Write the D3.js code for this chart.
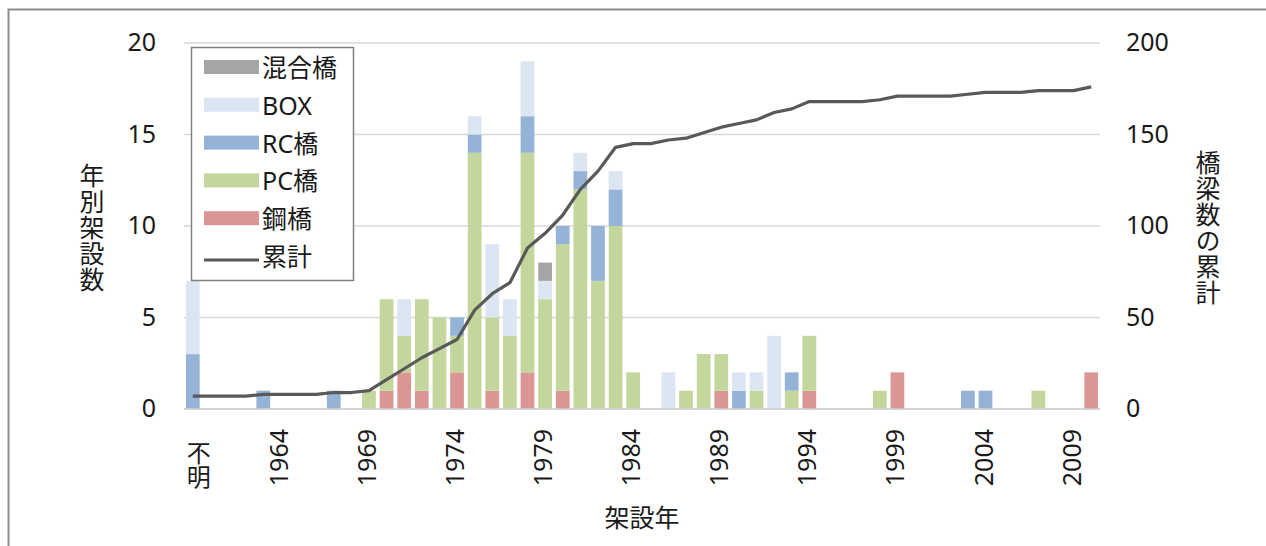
<!DOCTYPE html>
<html><head><meta charset="utf-8">
<script src="https://cdn.jsdelivr.net/npm/d3@7"></script>
<style>
html,body{margin:0;padding:0;background:#fff;}
svg{display:block;}
text{font-family:"Noto Sans","Noto Sans CJK JP",sans-serif;fill:#1a1a1a;}
text.vert{writing-mode:vertical-rl;text-orientation:upright;font-family:"Noto Sans CJK JP",sans-serif;}
</style></head>
<body>
<svg id="chart" width="1266" height="546"></svg>
<script>
const categories = ["不明","1960","1961","1962","1963","1964","1965","1966","1967","1968",
  "1969","1970","1971","1972","1973","1974","1975","1976","1977","1978",
  "1979","1980","1981","1982","1983","1984","1985","1986","1987","1988",
  "1989","1990","1991","1992","1993","1994","1995","1996","1997","1998",
  "1999","2000","2001","2002","2003","2004","2005","2006","2007","2008",
  "2009","2010"];
const tickLabels = ["不明","1964","1969","1974","1979","1984","1989","1994","1999","2004","2009"];

const steel = [0,0,0,0,0,0,0,0,0,0, 0,1,2,1,0,2,0,1,0,2, 0,1,0,0,0,0,0,0,0,0, 1,0,0,0,0,1,0,0,0,0, 2,0,0,0,0,0,0,0,0,0, 0,2];
const pc    = [0,0,0,0,0,0,0,0,0,0, 1,5,2,5,5,2,14,4,4,12, 6,8,12,7,10,2,0,0,1,3, 2,0,1,0,1,3,0,0,0,1, 0,0,0,0,0,0,0,0,1,0, 0,0];
const rc    = [3,0,0,0,1,0,0,0,1,0, 0,0,0,0,0,1,1,0,0,2, 0,1,1,3,2,0,0,0,0,0, 0,1,0,0,1,0,0,0,0,0, 0,0,0,0,1,1,0,0,0,0, 0,0];
const box   = [4,0,0,0,0,0,0,0,0,0, 0,0,2,0,0,0,1,4,2,3, 1,0,1,0,1,0,0,2,0,0, 0,1,1,4,0,0,0,0,0,0, 0,0,0,0,0,0,0,0,0,0, 0,0];
const mixed = [0,0,0,0,0,0,0,0,0,0, 0,0,0,0,0,0,0,0,0,0, 1,0,0,0,0,0,0,0,0,0, 0,0,0,0,0,0,0,0,0,0, 0,0,0,0,0,0,0,0,0,0, 0,0];
const cumulative = [7,7,7,7,8,8,8,8,9,9, 10,16,22,28,33,38,54,63,69,88, 96,106,120,130,143,145,145,147,148,151,
  154,156,158,162,164,168,168,168,168,169, 171,171,171,171,172,173,173,173,174,174, 174,176];

const seriesNames = ["鋼橋","PC橋","RC橋","BOX","混合橋"];
const seriesColors = ["#d99694","#c3d69b","#95b3d7","#dce6f2","#a6a6a6"];
const lineName = "累計";
const leftTicks = [0,5,10,15,20];
const rightTicks = [0,50,100,150,200];

const svg = d3.select("#chart");
const W = 1266, H = 546;
const L = 184, R = 1100, T = 43, B = 409;

// outer frame
svg.append("path").attr("d", `M8.5,${H+5} L8.5,9.5 L${W+5},9.5`)
  .attr("fill","none").attr("stroke","#8c8c8c").attr("stroke-width",2);

const x = d3.scaleBand().domain(categories).range([L,R]).paddingInner(0.22).paddingOuter(0.11);
const y = d3.scaleLinear().domain([0,20]).range([B,T]);
const y2 = d3.scaleLinear().domain([0,200]).range([B,T]);

// gridlines
svg.append("g").selectAll("line").data(leftTicks).join("line")
  .attr("x1",L).attr("x2",R).attr("y1",d=>y(d)).attr("y2",d=>y(d))
  .attr("stroke","#d9d9d9").attr("stroke-width",1.5);

// stacked bars
const table = categories.map((c,i)=>({cat:c, s0:steel[i], s1:pc[i], s2:rc[i], s3:box[i], s4:mixed[i]}));
const stack = d3.stack().keys(["s0","s1","s2","s3","s4"])(table);
svg.append("g").selectAll("g").data(stack).join("g")
  .attr("fill",(d,i)=>seriesColors[i])
  .selectAll("rect").data(d=>d.filter(v=>v[1]-v[0]>0)).join("rect")
  .attr("x",d=>x(d.data.cat)).attr("width",x.bandwidth())
  .attr("y",d=>y(d[1])).attr("height",d=>y(d[0])-y(d[1]));

// baseline
svg.append("line").attr("x1",L).attr("x2",R).attr("y1",y(0)).attr("y2",y(0))
  .attr("stroke","#d0d0d0").attr("stroke-width",1.5);

// cumulative line
const line = d3.line().x((d,i)=>x(categories[i])+x.bandwidth()/2).y(d=>y2(d));
svg.append("path").datum(cumulative).attr("d",line)
  .attr("fill","none").attr("stroke","#595959").attr("stroke-width",3.2).attr("stroke-linejoin","round");

// left axis labels
svg.append("g").selectAll("text").data(leftTicks).join("text")
  .attr("x",156).attr("y",d=>y(d)-2).attr("text-anchor","end").attr("dominant-baseline","central")
  .attr("font-size",25).text(d=>d);
// right axis labels
svg.append("g").selectAll("text").data(rightTicks).join("text")
  .attr("x",1126).attr("y",d=>y2(d)-2).attr("text-anchor","start").attr("dominant-baseline","central")
  .attr("font-size",25).text(d=>d);

// x tick labels
const xl = svg.append("g");
tickLabels.forEach(t=>{
  const cx = x(t)+x.bandwidth()/2;
  if (/^\d+$/.test(t)) {
    xl.append("text").attr("transform",`translate(${cx-3},429) rotate(-90)`)
      .attr("text-anchor","end").attr("dominant-baseline","central").attr("font-size",25).text(t);
  } else {
    xl.append("text").attr("class","vert").attr("x",cx+6).attr("y",465)
      .attr("text-anchor","middle").attr("font-size",24).text(t);
  }
});

// axis titles
svg.append("text").attr("x",(L+R)/2).attr("y",517).attr("text-anchor","middle")
  .attr("dominant-baseline","central").attr("font-size",25).text("架設年");
function vtitle(str, cx, cy){
  svg.append("text").attr("class","vert").attr("x",cx).attr("y",cy)
    .attr("text-anchor","middle").attr("font-size",25).attr("letter-spacing",1).text(str);
}
vtitle("年別架設数", 92, 228);
vtitle("橋梁数の累計", 1208, 228);

// legend
const lg = svg.append("g");
lg.append("rect").attr("x",191.5).attr("y",47.5).attr("width",162).attr("height",233)
  .attr("fill","#fff").attr("stroke","#7f7f7f").attr("stroke-width",1.5);
const legendItems = [
  {name:seriesNames[4], color:seriesColors[4], type:"rect"},
  {name:seriesNames[3], color:seriesColors[3], type:"rect"},
  {name:seriesNames[2], color:seriesColors[2], type:"rect"},
  {name:seriesNames[1], color:seriesColors[1], type:"rect"},
  {name:seriesNames[0], color:seriesColors[0], type:"rect"},
  {name:lineName, color:"#595959", type:"line"}
];
legendItems.forEach((it,k)=>{
  const cy = 67 + k*37.8;
  if (it.type==="rect") {
    lg.append("rect").attr("x",204).attr("y",cy-7).attr("width",55).attr("height",14).attr("fill",it.color);
  } else {
    lg.append("line").attr("x1",204).attr("x2",259).attr("y1",cy+4).attr("y2",cy+4)
      .attr("stroke",it.color).attr("stroke-width",3);
  }
  lg.append("text").attr("x",262).attr("y",cy).attr("dominant-baseline","central")
    .attr("font-size",25).text(it.name);
});
</script>
</body></html>
